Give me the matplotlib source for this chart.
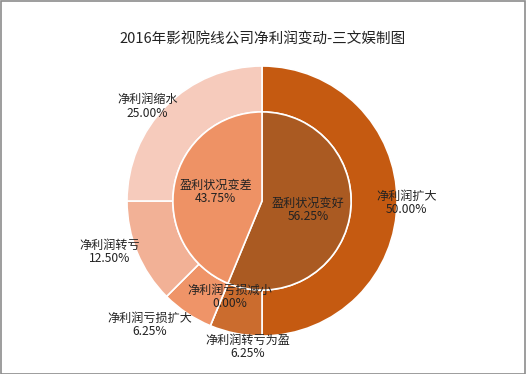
import numpy as np
from matplotlib import pyplot as plt

plt.rcParams['font.family'] = ['Noto Sans CJK SC', 'DejaVu Sans']

titulo = "2016年影视院线公司净利润变动-三文娱制图"

# anel externo
nomes_ext = ["净利润扩大", "净利润转亏为盈", "净利润亏损减小", "净利润亏损扩大", "净利润转亏", "净利润缩水"]
valores_ext = [50.00, 6.25, 0.00, 6.25, 12.50, 25.00]

# pizza interna
nomes_int = ["盈利状况变好", "盈利状况变差"]
valores_int = [56.25, 43.75]

cores_ext = ["#C55A11", "#CB6C2E", "#E0824E", "#EF9468", "#F2B196", "#F6CBBC"]
cores_int = ["#AA5A22", "#EE9265"]
# posicao dos rotulos externos: fator do raio e ajuste de angulo (graus)
dist_ext = [1.074, 1.086, 0.75, 1.239, 1.188, 1.10]
ajuste_ext = [-0.8, 5.75, 4.1, -8.4, -3.9, 5.5]

fig = plt.figure(figsize=(5.26, 3.74), dpi=100)
fig.patches.append(plt.Rectangle((0.001, 0.001), 0.997, 0.997, transform=fig.transFigure,
                                 fill=False, edgecolor="#8C8C8C", linewidth=1.2))
fig.text(0.5, 0.895, titulo, ha="center", va="center", fontsize=10.5, color="#222222")

ax = fig.add_axes([(262 - 135) / 526, (374 - 201 - 135) / 374, 270 / 526, 270 / 374])
R = 1.0
r_in = 0.66

ax.pie(valores_ext, radius=R, colors=cores_ext, startangle=90, counterclock=False,
       wedgeprops=dict(width=R - r_in, edgecolor="white", linewidth=1.2))
ax.pie(valores_int, radius=r_in, colors=cores_int, startangle=90, counterclock=False,
       wedgeprops=dict(edgecolor="white", linewidth=1.2))

total = sum(valores_ext)
acum = 0
for nome, v, d, aj in zip(nomes_ext, valores_ext, dist_ext, ajuste_ext):
    meio = 90 - (acum + v / 2) / total * 360 + aj
    acum += v
    a = np.deg2rad(meio)
    ax.text(d * R * np.cos(a), d * R * np.sin(a), f"{nome}\n{v:.2f}%",
            ha="center", va="center", fontsize=8.7, color="#222222", linespacing=1.05)

acum = 0
for nome, v in zip(nomes_int, valores_int):
    meio = 90 - (acum + v / 2) / 100 * 360
    acum += v
    a = np.deg2rad(meio)
    ax.text(0.35 * np.cos(a), 0.35 * np.sin(a), f"{nome}\n{v:.2f}%",
            ha="center", va="center", fontsize=8.7, color="#222222", linespacing=1.05)

ax.set_xlim(-1, 1)
ax.set_ylim(-1, 1)
ax.set_aspect("equal")

plt.savefig("out.png", dpi=100)
